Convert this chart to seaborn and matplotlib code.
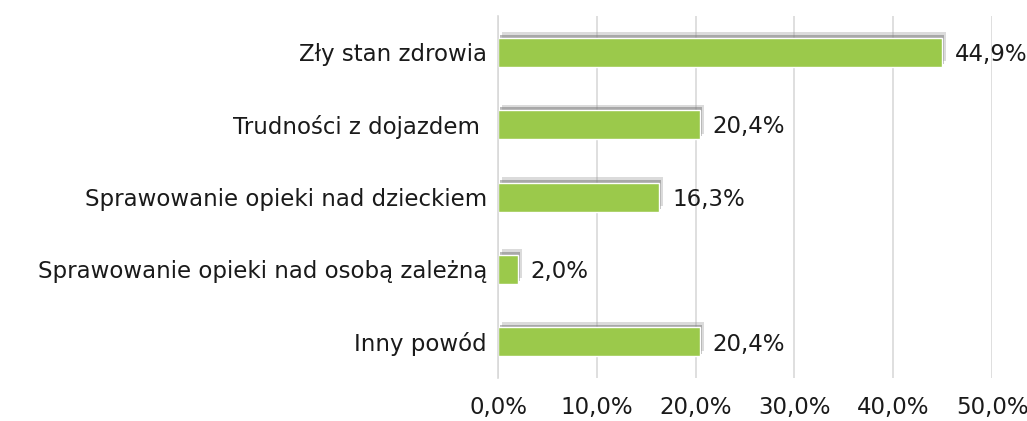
import matplotlib
matplotlib.use("Agg")
import matplotlib.pyplot as plt
import matplotlib.patheffects as pe
import seaborn as sns
import pandas as pd

categories = ["Zły stan zdrowia", "Trudności z dojazdem ", "Sprawowanie opieki nad dzieckiem",
              "Sprawowanie opieki nad osobą zależną", "Inny powód"]
values = [44.9, 20.4, 16.3, 2.0, 20.4]
ticks = [0, 10, 20, 30, 40, 50]

df = pd.DataFrame({"powod": categories, "proc": values})

sns.set_theme(style="white")
plt.rcParams["font.family"] = ["DejaVu Sans"]

fig = plt.figure(figsize=(10.27, 4.21), dpi=100)
ax = fig.add_axes([0.485, 0.102, 0.481, 0.86])

sns.barplot(data=df, x="proc", y="powod", color="#9BC94B", saturation=1, width=0.4, ax=ax)

# miękki cień nad słupkami
for bar in ax.patches:
    bar.set_path_effects([
        pe.SimplePatchShadow(offset=(3, 4), shadow_rgbFace="#999999", alpha=0.35),
        pe.SimplePatchShadow(offset=(1.5, 2), shadow_rgbFace="#777777", alpha=0.5),
        pe.Normal()])

for i, v in enumerate(values):
    ax.text(v + 1.3, i + 0.03, f"{v:.1f}%".replace(".", ","), va="center", ha="left",
            fontsize=16.5, color="#1a1a1a")

ax.set_xlim(0, 50)
ax.set_ylim(4.5, -0.5)
ax.set_xticks(ticks)
ax.set_xticklabels([f"{t:.1f}%".replace(".", ",") for t in ticks], fontsize=16.5, color="#1a1a1a")
ax.tick_params(axis="y", labelsize=16.5, labelcolor="#1a1a1a", length=0, pad=8)
ax.tick_params(axis="x", length=0, pad=13)
ax.set_xlabel("")
ax.set_ylabel("")
ax.xaxis.grid(True, color="#D9D9D9", linewidth=1.2)
ax.set_axisbelow(True)
for s in ["top", "right", "bottom"]:
    ax.spines[s].set_visible(False)
ax.spines["left"].set_color("#D9D9D9")
ax.spines["left"].set_linewidth(1.2)

fig.savefig("out.png", dpi=100)
